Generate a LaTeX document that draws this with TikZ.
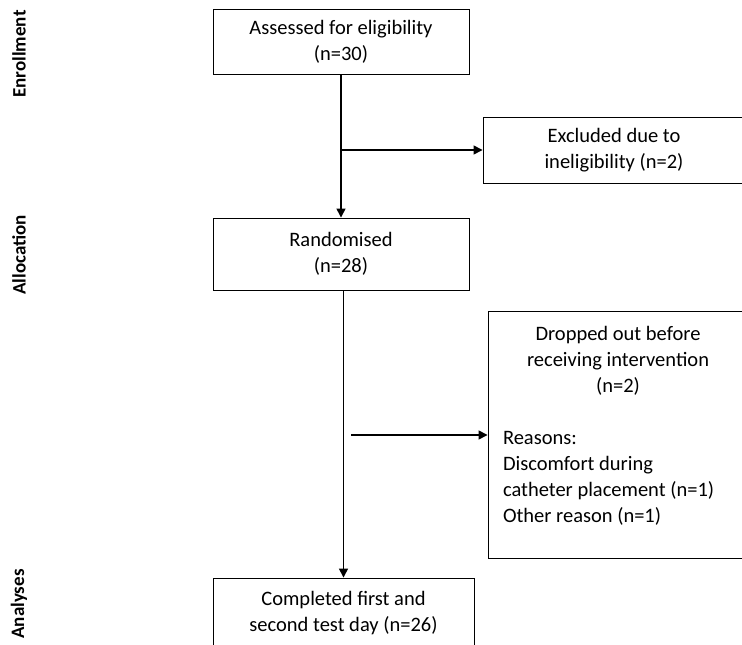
\documentclass[tikz,border=0pt]{standalone}
\usepackage{fontspec}
\setmainfont{Carlito}
\usetikzlibrary{arrows.meta}

\newcommand{\dropmid}[1]{\makebox[230pt][c]{#1}}
\newcommand{\dropleft}[1]{\makebox[230pt][l]{#1}}

\begin{document}
\begin{tikzpicture}
[x=1pt,y=-1pt,%
  every node/.style={font=\fontsize{20.5}{26}\selectfont},%
  box/.style={draw,line width=0.9pt,shape=rectangle,inner sep=0pt,align=center},%
  phase/.style={rotate=90,font=\fontsize{19}{23}\selectfont\bfseries},%
  flow/.style={-{Triangle[length=9pt,width=9pt]},line width=1.4pt}]
\useasboundingbox (0,0) rectangle (742,645);
\clip (0,0) rectangle (742,645);
% phases
\node[phase] (enrol) at (19,54) {Enrollment};
\node[phase] (alloc) at (19,255) {Allocation};
\node[phase] (anal) at (19,604) {Analyses};
% boxes
\node[box,minimum width=256pt,minimum height=65pt] (assess) at (341,41.5)
  {Assessed for eligibility\\(n=30)};
\node[box,minimum width=262pt,minimum height=66pt] (excl) at (614,150)
  {Excluded due to\\ineligibility (n=2)};
\node[box,minimum width=256pt,minimum height=72pt] (rand) at (341,254)
  {Randomised\\(n=28)};
\node[box,minimum width=260pt,minimum height=247pt] (drop) at (618,434.5)
  {\dropmid{Dropped out before}\\\dropmid{receiving intervention}\\\dropmid{(n=2)}\\[26pt]
   \dropleft{Reasons:}\\\dropleft{Discomfort during}\\\dropleft{catheter placement (n=1)}\\
   \dropleft{Other reason (n=1)}\\[-6pt]\mbox{}};
\node[box,minimum width=261pt,minimum height=70pt] (done) at (343.5,613)
  {Completed first and\\second test day (n=26)};
\coordinate (dropfrom) at (351,435);
% connectors
\draw[flow] (assess) -- (rand);
\draw[flow] (assess.south |- excl.west) -- (excl.west);
\draw[flow] (rand.south -| done.north) -- (done.north);
\draw[flow] (dropfrom) -- (drop.west |- dropfrom);
\end{tikzpicture}
\end{document}
